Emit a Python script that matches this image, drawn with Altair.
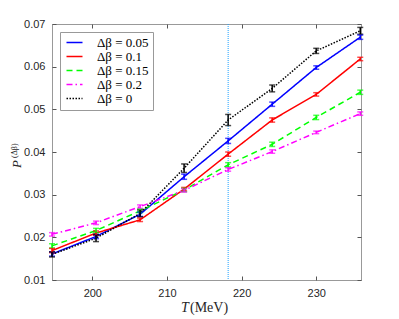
import altair as alt
import pandas as pd

T = [194.6, 200.5, 206.4, 212.3, 218.2, 224.1, 230.0, 235.9]
labels = ["Δβ = 0.05", "Δβ = 0.1", "Δβ = 0.15", "Δβ = 0.2", "Δβ = 0"]
p005 = [0.0161, 0.0202, 0.0254, 0.0342, 0.0426, 0.0512, 0.0598, 0.0669]
p01 = [0.0169, 0.0210, 0.0241, 0.0313, 0.0395, 0.0475, 0.0535, 0.0618]
p015 = [0.0180, 0.0216, 0.0262, 0.0311, 0.0370, 0.0418, 0.0481, 0.0540]
p02 = [0.0207, 0.0234, 0.0272, 0.0310, 0.0359, 0.0401, 0.0446, 0.0490]
p0 = [0.0160, 0.0198, 0.0256, 0.0362, 0.0475, 0.0549, 0.0637, 0.0684]
e005 = [0.0005, 0.0005, 0.0005, 0.0006, 0.0006, 0.0005, 0.0004, 0.0005]
e01 = [0.0005, 0.0005, 0.0004, 0.0004, 0.0005, 0.0005, 0.0004, 0.0004]
e015 = [0.0005, 0.0005, 0.0004, 0.0004, 0.0005, 0.0005, 0.0005, 0.0005]
e02 = [0.0004, 0.0004, 0.0004, 0.0004, 0.0004, 0.0004, 0.0003, 0.0004]
e0 = [0.0006, 0.0008, 0.0008, 0.0010, 0.0013, 0.0008, 0.0006, 0.0008]
T_c = [218.2]
x_ticks = [200, 210, 220, 230]
y_ticks = [0.01, 0.02, 0.03, 0.04, 0.05, 0.06, 0.07]

colors = ["#0000ff", "#ff0000", "#00ff00", "#ff00ff", "#000000"]
dashes = [[1, 0], [1, 0], [6, 4], [6, 3, 1.5, 3], [1.5, 1.5]]

rows = []
for lab, vals, errs in zip(labels, [p005, p01, p015, p02, p0], [e005, e01, e015, e02, e0]):
    for t, v, e in zip(T, vals, errs):
        rows.append({"T": t, "P": v, "lo": v - e, "hi": v + e, "s": lab})
df = pd.DataFrame(rows)

W, H = 309, 256
xs = alt.Scale(domain=[194.6, 236.0], nice=False, zero=False)
ys = alt.Scale(domain=[0.01, 0.07], nice=False, zero=False)
cscale = alt.Scale(domain=labels, range=colors)
dscale = alt.Scale(domain=labels, range=dashes)

leg = alt.Legend(
    title=None, orient="none", legendX=8, legendY=8,
    fillColor="white", strokeColor="#999999", padding=4,
    labelFont="Liberation Serif", labelFontSize=13, labelColor="#000000",
    symbolType="M-1,0H3", symbolSize=64, symbolStrokeWidth=1.5,
    rowPadding=0, labelOffset=20,
)

lines = alt.Chart(df).mark_line(strokeWidth=1.5).encode(
    x=alt.X("T:Q", scale=xs, axis=alt.Axis(
        values=x_ticks, orient="bottom", title=None, ticks=False, labelPadding=7,
        domain=True, domainColor="#999999", grid=False)),
    y=alt.Y("P:Q", scale=ys, axis=alt.Axis(
        values=y_ticks, orient="left", title=None, ticks=False, labelPadding=7,
        format=".2f", domain=True, domainColor="#999999", grid=False)),
    color=alt.Color("s:N", scale=cscale, legend=leg),
    strokeDash=alt.StrokeDash("s:N", scale=dscale, legend=leg),
    order=alt.Order("T:Q"),
)

errs = alt.Chart(df).mark_errorbar(ticks={"size": 6}, thickness=1.5).encode(
    x=alt.X("T:Q", scale=xs, axis=None),
    y=alt.Y("lo:Q", scale=ys, axis=None),
    y2="hi:Q",
    color=alt.Color("s:N", scale=cscale, legend=None),
)

vline = alt.Chart(pd.DataFrame({"T": T_c})).mark_rule(
    color="#1ea0ff", strokeDash=[1, 1], strokeWidth=1).encode(
    x=alt.X("T:Q", scale=xs, axis=None))

def tick_axis(xorient, xoff, yorient, yoff, show_x):
    base = alt.Chart(df).mark_point(opacity=0)
    if show_x:
        return base.encode(
            x=alt.X("T:Q", scale=xs, axis=alt.Axis(values=x_ticks, orient=xorient, offset=xoff,
                                                   labels=False, domain=False, title=None,
                                                   tickSize=4, tickColor="#555555", grid=False)),
            y=alt.Y("P:Q", scale=ys, axis=None))
    return base.encode(
        x=alt.X("T:Q", scale=xs, axis=None),
        y=alt.Y("P:Q", scale=ys, axis=alt.Axis(values=y_ticks, orient=yorient, offset=yoff,
                                               labels=False, domain=False, title=None,
                                               tickSize=4, tickColor="#555555", grid=False)))

ax1 = tick_axis("top", -H, None, 0, True)
ax2 = tick_axis("bottom", -H, None, 0, True)
ax3 = tick_axis(None, 0, "right", -W, False)
ax4 = tick_axis(None, 0, "left", -W, False)

def txt(s, x, y, size, style, angle=0):
    return alt.Chart(pd.DataFrame({"t": [s]})).mark_text(
        font="Liberation Serif", fontSize=size, fontStyle=style, align="left",
        baseline="alphabetic", angle=angle, color="#262626").encode(
        text="t:N", x=alt.value(x), y=alt.value(y))

t1 = txt("T", 129, 288, 14, "italic")
t2 = txt("(MeV)", 138, 288, 14, "normal")
t3 = txt("P", -31, 144, 13, "italic", 270)
t4 = txt("(Δβ)", -35, 134, 8, "normal", 270)

chart = alt.layer(vline, lines, errs, ax1, ax2, ax3, ax4, t1, t2, t3, t4).resolve_axis(
    x="independent", y="independent"
).properties(
    width=W, height=H,
    autosize=alt.AutoSizeParams(type="none"),
    padding={"left": 44, "top": 16, "right": 30, "bottom": 39},
    background="white",
).configure_view(stroke="#999999", strokeWidth=1).configure_axis(
    labelFont="Liberation Sans", labelFontSize=11, labelColor="#262626"
)

chart.save("out.html", embed_options={"renderer": "svg", "actions": False})
